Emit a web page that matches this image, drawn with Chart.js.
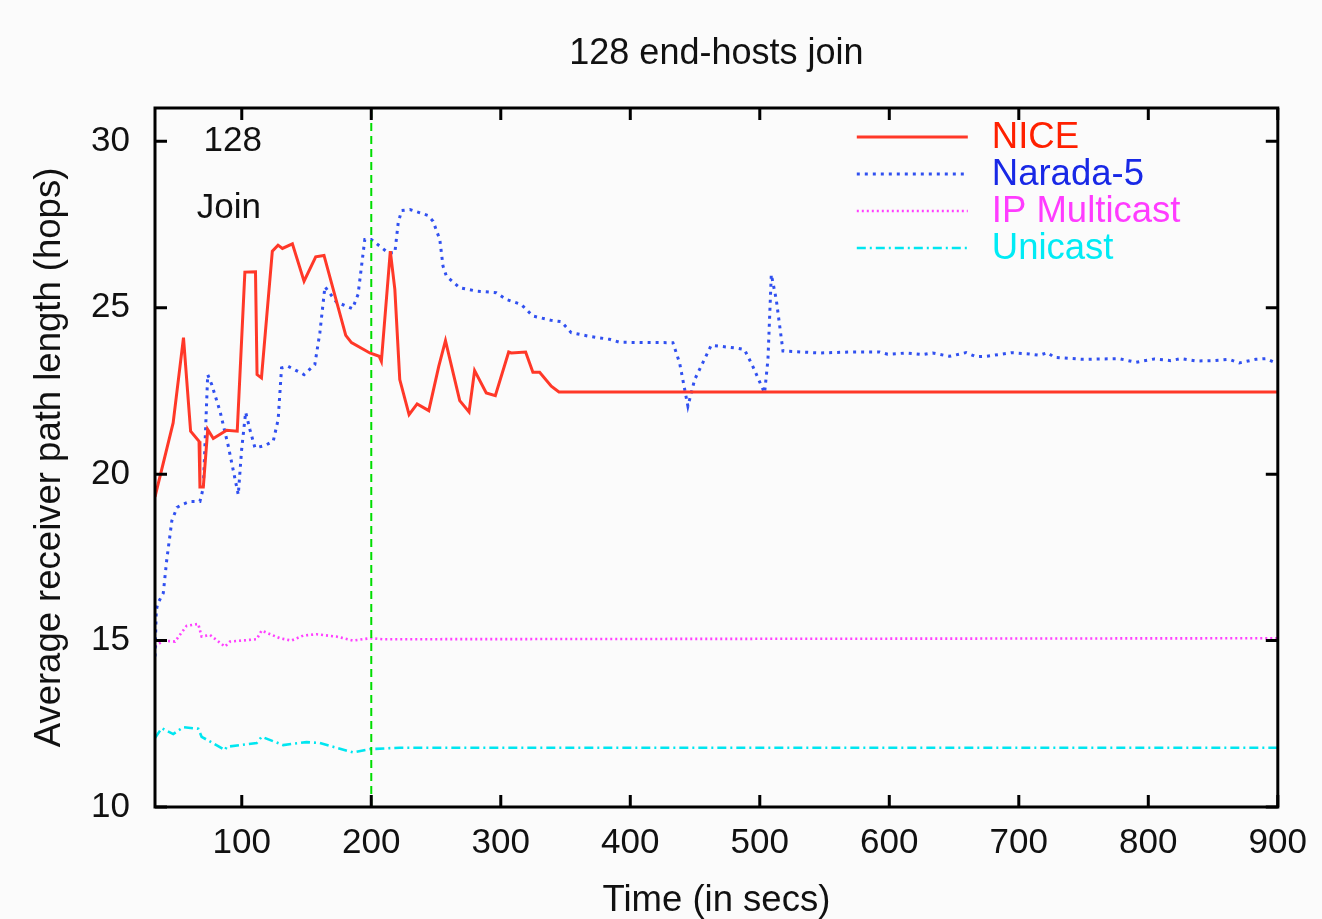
<!DOCTYPE html>
<html>
<head>
<meta charset="utf-8">
<script src="https://cdn.jsdelivr.net/npm/chart.js@4/dist/chart.umd.min.js"></script>
<style>
  html, body { margin: 0; padding: 0; background: #fbfbfb; }
  #wrap { width: 1322px; height: 919px; }
</style>
</head>
<body>
<div id="wrap"><canvas id="c" width="1322" height="919"></canvas></div>
<script>
// ---- Data ----
const chartTitle = '128 end-hosts join';
const xTitle = 'Time (in secs)';
const yTitle = 'Average receiver path length (hops)';
const xTickValues = [100, 200, 300, 400, 500, 600, 700, 800, 900];
const yTickValues = [10, 15, 20, 25, 30];
const xMin = 33, xMax = 900, yMin = 10, yMax = 31;
const joinMarkerX = 200;
const noteCount = '128';
const noteJoin = 'Join';

const seriesLabels = ['NICE', 'Narada-5', 'IP Multicast', 'Unicast'];

const niceX = [33,47,55,60.5,67,67.7,70.3,73.7,78,88.3,96.5,102.4,110.6,111.8,115.2,123.6,128,131.4,139.1,148.1,157.1,163.5,180.3,184.7,198.9,206.1,207.8,214.7,218.2,222,229.2,235.4,244.4,252.1,257.3,268.3,275.5,279.8,288.8,295.8,306.1,308.1,319.2,324.8,330,339,344.9,900];
const niceY = [19.32,21.54,24.10,21.29,20.99,19.61,19.61,21.34,21.07,21.32,21.29,26.07,26.08,22.99,22.89,26.70,26.88,26.78,26.92,25.80,26.53,26.57,24.17,23.95,23.64,23.54,23.39,26.70,25.55,22.84,21.79,22.11,21.91,23.24,24.01,22.21,21.87,23.11,22.44,22.36,23.67,23.64,23.67,23.06,23.06,22.64,22.47,22.47];

const naradaX = [33,34,35,39.4,42,46,50,53.6,60,67.7,70.3,73.7,76.8,83.2,89.6,97.3,99.9,103,106.3,110.2,117.9,124.3,128.1,130.7,135.8,148.1,156.4,160.3,164.2,173.1,185.5,189.8,195,200,213,218.2,220.8,223.4,229.8,243.9,247.7,252.9,255.4,258,268.3,281.1,296.5,304.2,315.8,324.8,339,346.7,354.4,368.5,384,391.8,432.9,438.1,444.5,449.7,462.5,481.8,488.2,494.6,503.7,506.3,508.9,512.7,517.9,546.2,569.3,592.4,598.8,613,625.8,633.5,646.4,659.3,667,674.7,687.5,694,708.1,715.8,722.2,727.4,749.3,777.5,790.4,804.6,817.4,825.1,836.7,849.5,862.5,870.2,883,890.7,898.4,900];
const naradaY = [14.52,15.9,16.1,16.43,17.4,18.6,19.0,19.08,19.18,19.18,19.59,22.99,22.69,21.89,20.84,19.38,20.74,21.86,21.34,20.79,20.86,20.99,21.64,23.19,23.24,22.99,23.29,24.25,25.63,25.17,24.97,25.40,27.05,27.05,26.65,26.65,27.55,27.92,27.95,27.77,27.60,27.05,26.25,25.95,25.60,25.50,25.45,25.25,25.10,24.75,24.62,24.58,24.25,24.14,24.05,23.96,23.95,23.34,22.04,22.84,23.87,23.79,23.74,23.24,22.44,23.44,26.0,25.25,23.70,23.64,23.67,23.67,23.60,23.64,23.59,23.64,23.54,23.65,23.53,23.54,23.61,23.65,23.61,23.57,23.65,23.51,23.45,23.47,23.36,23.46,23.41,23.47,23.40,23.41,23.45,23.34,23.45,23.47,23.34,23.34];

const ipmX = [33,39.4,48.4,57.4,66.4,69,75.4,87,90.9,111.5,115.3,129.4,138.4,147.4,157.7,173.1,186,198.9,209.1,900];
const ipmY = [14.82,15.00,14.97,15.44,15.50,15.12,15.17,14.82,14.97,15.04,15.30,15.07,15.00,15.15,15.19,15.12,15.00,15.07,15.04,15.07];

const uniX = [33,38.2,47.1,54.8,66.4,69,87,88.3,111.5,115.3,132,150,160.3,186,198.9,222,900];
const uniY = [12.07,12.37,12.19,12.40,12.35,12.11,11.71,11.81,11.92,12.11,11.86,11.95,11.92,11.64,11.74,11.78,11.78];

// ---- Build ----
const zip = (xs, ys) => xs.map((x, i) => ({ x: x, y: ys[i] }));
const FONT = "'Liberation Sans', Arial, sans-serif";

const styles = [
  { color: 'rgb(255,56,40)', text: 'rgb(255,32,0)', width: 3, dash: [] },
  { color: 'rgb(48,80,240)', text: 'rgb(24,40,230)', width: 3, dash: [3, 5] },
  { color: 'rgb(255,64,255)', text: 'rgb(255,60,255)', width: 2.6, dash: [2, 3] },
  { color: 'rgb(0,230,240)', text: 'rgb(0,235,245)', width: 2.6, dash: [9, 4, 2, 4] }
];
const seriesData = [zip(niceX, niceY), zip(naradaX, naradaY), zip(ipmX, ipmY), zip(uniX, uniY)];

const datasets = seriesData.map((d, i) => ({
  label: seriesLabels[i],
  data: d,
  borderColor: styles[i].color,
  borderWidth: styles[i].width,
  borderDash: styles[i].dash,
  pointRadius: 0,
  fill: false,
  tension: 0,
  order: i
}));

const framePlugin = {
  id: 'frame',
  beforeDraw(chart) {
    const ctx = chart.ctx;
    ctx.save();
    ctx.fillStyle = '#fbfbfb';
    ctx.fillRect(0, 0, chart.width, chart.height);
    ctx.restore();
  },
  afterDatasetsDraw(chart) {
    const { ctx, chartArea: a, scales: { x, y } } = chart;
    ctx.save();
    // chart title, centred over the plot
    ctx.fillStyle = '#111';
    ctx.font = '36px ' + FONT;
    ctx.textAlign = 'center';
    ctx.textBaseline = 'middle';
    ctx.fillText(chartTitle, (a.left + a.right) / 2, 54);
    // vertical join marker
    const mx = x.getPixelForValue(joinMarkerX);
    ctx.strokeStyle = '#00dd00';
    ctx.lineWidth = 2;
    ctx.setLineDash([8, 5]);
    ctx.beginPath();
    ctx.moveTo(mx, a.bottom);
    ctx.lineTo(mx, a.top);
    ctx.stroke();
    ctx.setLineDash([]);
    // frame
    ctx.strokeStyle = '#000';
    ctx.lineWidth = 3;
    ctx.strokeRect(a.left, a.top, a.right - a.left, a.bottom - a.top);
    // inward ticks
    const tl = 12;
    ctx.beginPath();
    xTickValues.forEach(v => {
      const px = x.getPixelForValue(v);
      ctx.moveTo(px, a.bottom); ctx.lineTo(px, a.bottom - tl);
      ctx.moveTo(px, a.top); ctx.lineTo(px, a.top + tl);
    });
    yTickValues.forEach(v => {
      const py = y.getPixelForValue(v);
      ctx.moveTo(a.left, py); ctx.lineTo(a.left + tl, py);
      ctx.moveTo(a.right, py); ctx.lineTo(a.right - tl, py);
    });
    ctx.stroke();
    // annotations
    ctx.fillStyle = '#111';
    ctx.font = '35px ' + FONT;
    ctx.textAlign = 'center';
    ctx.textBaseline = 'middle';
    ctx.fillText(noteCount, x.getPixelForValue(93), y.getPixelForValue(30));
    ctx.fillText(noteJoin, x.getPixelForValue(90), y.getPixelForValue(27.98));
    // legend
    const sx0 = a.right - 421, sx1 = a.right - 310, tx = a.right - 286;
    chart.data.datasets.forEach((ds, i) => {
      const ry = a.top + 29 + i * 37;
      ctx.strokeStyle = ds.borderColor;
      ctx.lineWidth = ds.borderWidth;
      ctx.setLineDash(ds.borderDash || []);
      ctx.beginPath();
      ctx.moveTo(sx0, ry);
      ctx.lineTo(sx1, ry);
      ctx.stroke();
      ctx.setLineDash([]);
      ctx.fillStyle = styles[i].text;
      ctx.textAlign = 'left';
      ctx.font = '36.5px ' + FONT;
      ctx.fillText(ds.label, tx, ry + 1);
    });
    ctx.restore();
  }
};

new Chart(document.getElementById('c'), {
  type: 'line',
  data: { datasets },
  plugins: [framePlugin],
  options: {
    responsive: false,
    animation: false,
    layout: { padding: { left: 0, right: 44, top: 108, bottom: 0 } },
    plugins: {
      legend: { display: false },
      tooltip: { enabled: false },
      title: { display: false }
    },
    scales: {
      x: {
        type: 'linear',
        min: xMin, max: xMax,
        afterBuildTicks: s => { s.ticks = xTickValues.map(v => ({ value: v })); },
        afterFit: s => { s.height = 112; },
        grid: { display: false, drawTicks: false },
        border: { display: false },
        ticks: { color: '#111', font: { family: FONT, size: 35 }, padding: 15, maxRotation: 0 },
        title: { display: true, text: xTitle, color: '#111', font: { family: FONT, size: 36.5, lineHeight: 1.0 }, padding: { top: 0, bottom: 0 } }
      },
      y: {
        type: 'linear',
        min: yMin, max: yMax,
        afterBuildTicks: s => { s.ticks = yTickValues.map(v => ({ value: v })); },
        afterFit: s => { s.width = 155; },
        grid: { display: false, drawTicks: false },
        border: { display: false },
        ticks: { color: '#111', font: { family: FONT, size: 35 }, padding: 25 },
        title: { display: true, text: yTitle, color: '#111', font: { family: FONT, size: 36.5 }, padding: { top: 28, bottom: 0 } }
      }
    }
  }
});
</script>
</body>
</html>
